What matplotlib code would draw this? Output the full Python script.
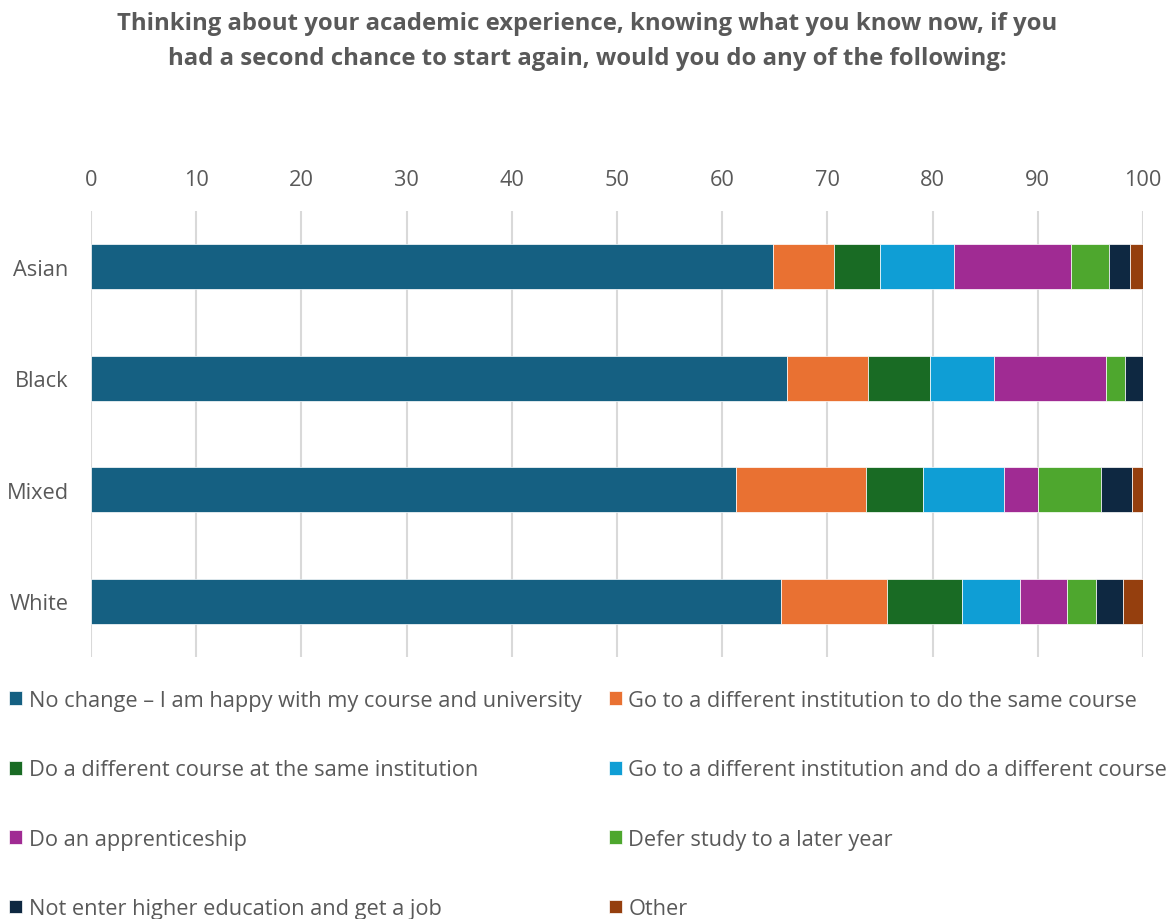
import matplotlib.pyplot as plt
import numpy as np

plt.rcParams['font.family'] = ['Open Sans', 'DejaVu Sans']

groups = ['Asian', 'Black', 'Mixed', 'White']
options = [
    'No change \u2013 I am happy with my course and university',
    'Go to a different institution to do the same course',
    'Do a different course at the same institution',
    'Go to a different institution and do a different course',
    'Do an apprenticeship',
    'Defer study to a later year',
    'Not enter higher education and get a job',
    'Other',
]
colours = ['#156082', '#E97132', '#196B24', '#0F9ED5',
           '#A02B93', '#4EA72E', '#0E2841', '#953F0E']

# percent of respondents per option, one list per ethnic group
asian = [64.8, 5.8, 4.4, 7.0, 11.2, 3.6, 2.0, 1.2]
black = [66.2, 7.7, 5.9, 6.0, 10.7, 1.8, 1.7, 0.0]
mixed = [61.3, 12.4, 5.4, 7.7, 3.2, 6.0, 3.0, 1.0]
white = [65.6, 10.1, 7.1, 5.5, 4.5, 2.7, 2.6, 1.9]

vals = np.array([asian, black, mixed, white])
grey = '#595959'

fig = plt.figure(figsize=(11.75, 9.2), dpi=100)
ax = fig.add_axes([0.0774, 0.2848, 0.8953, 0.4848])

y = np.arange(len(groups))
left = np.zeros(len(groups))
bars = []
for i in range(len(options)):
    b = ax.barh(y, vals[:, i], left=left, height=0.4, color=colours[i],
                edgecolor='white', linewidth=0.5, label=options[i], zorder=3)
    bars.append(b)
    left = left + vals[:, i]

ax.set_xlim(0, 100)
ax.set_ylim(3.5, -0.5)
ax.set_xticks(np.arange(0, 101, 10))
ax.set_yticks(y)
ax.set_yticklabels(groups)
ax.xaxis.tick_top()
ax.tick_params(length=0, labelsize=15.7, colors=grey)
ax.tick_params(axis='x', pad=15)
ax.tick_params(axis='y', pad=16)
ax.grid(axis='x', color='#D9D9D9', linewidth=1.5, zorder=0)
for s in ax.spines.values():
    s.set_visible(False)

fig.text(0.5, 0.987, 'Thinking about your academic experience, knowing what you know now, if you\n'
         'had a second chance to start again, would you do any of the following:',
         ha='center', va='top', fontsize=17.2, fontweight='bold', color=grey,
         linespacing=1.6)

order = [0, 2, 4, 6, 1, 3, 5, 7]
fig.legend([bars[i] for i in order], [options[i] for i in order],
           loc='upper left', bbox_to_anchor=(0.002, 0.256), ncol=2, frameon=False,
           fontsize=15.7, labelcolor=grey, handlelength=0.6, handleheight=0.6,
           handletextpad=0.3, labelspacing=2.22, columnspacing=1.25,
           borderaxespad=0, borderpad=0.3)

fig.savefig('out.png', dpi=100)
